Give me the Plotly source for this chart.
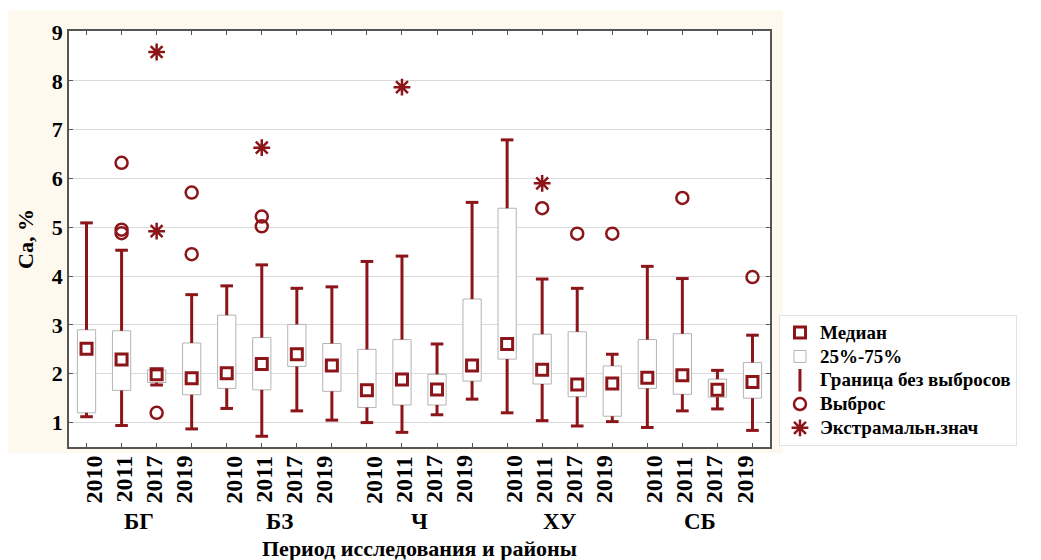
import plotly.graph_objects as go

# ---------------- data ----------------
groups = ["БГ", "БЗ", "Ч", "ХУ", "СБ"]
years = ["2010", "2011", "2017", "2019"]

whisker_low = [1.12, 0.94, 1.77, 0.87,  1.29, 0.72, 1.24, 1.05,  1.00, 0.80, 1.16, 1.48,
               1.20, 1.04, 0.93, 1.02,  0.90, 1.24, 1.28, 0.84]
q1 =          [1.20, 1.66, 1.82, 1.57,  1.70, 1.67, 2.15, 1.64,  1.31, 1.36, 1.36, 1.85,
               2.30, 1.79, 1.53, 1.13,  1.70, 1.58, 1.52, 1.50]
median =      [2.51, 2.29, 1.99, 1.91,  2.01, 2.20, 2.40, 2.17,  1.66, 1.88, 1.68, 2.17,
               2.61, 2.08, 1.78, 1.80,  1.92, 1.97, 1.67, 1.83]
q3 =          [2.90, 2.88, 2.08, 2.63,  3.20, 2.74, 3.01, 2.62,  2.50, 2.70, 1.99, 3.53,
               5.39, 2.81, 2.86, 2.16,  2.70, 2.82, 1.89, 2.23]
whisker_high = [5.09, 4.53, 2.08, 3.62,  3.80, 4.23, 3.75, 3.78,  4.30, 4.41, 2.61, 5.51,
                6.79, 3.94, 3.75, 2.40,  4.20, 3.95, 2.07, 2.79]

# outliers: index of box, value
outlier_box = [1, 1, 1, 2, 3, 3, 5, 5, 13, 14, 15, 17, 19]
outlier_val = [6.32, 4.95, 4.88, 1.20, 5.71, 4.45, 5.22, 5.02, 5.39, 4.87, 4.87, 5.60, 3.98]

# extreme values
extreme_box = [2, 2, 5, 9, 13]
extreme_val = [8.59, 4.92, 6.63, 7.87, 5.90]

legend_names = ["Медиан", "25%-75%", "Граница без выбросов", "Выброс", "Экстрамальн.знач"]
y_title = "Ca, %"
x_title = "Период исследования и районы"

# ---------------- styling ----------------
RED = "#8b1519"
BOXLINE = "#b4b4b4"
AXIS = "#555555"
SERIF = "Liberation Serif, Times New Roman, serif"


def lname(s):
    return '<span style="font-size:19px">' + s + '</span>'


n = len(median)
xs = list(range(n))

fig = go.Figure()

# boxes 25%-75%
fig.add_trace(go.Bar(
    x=xs, y=[b - a for a, b in zip(q1, q3)], base=q1, width=0.52,
    marker=dict(color="white", line=dict(color=BOXLINE, width=1)),
    name=lname(legend_names[1]), showlegend=True, legendrank=2, hoverinfo="skip"))

# whiskers (outside the box)
wx, wy = [], []
for i in xs:
    if whisker_high[i] > q3[i]:
        wx += [i, i, None]
        wy += [q3[i], whisker_high[i], None]
    if whisker_low[i] < q1[i]:
        wx += [i, i, None]
        wy += [q1[i], whisker_low[i], None]
fig.add_trace(go.Scatter(x=wx, y=wy, mode="lines", line=dict(color=RED, width=3),
                         showlegend=False, hoverinfo="skip"))

# whisker caps
fig.add_trace(go.Scatter(
    x=xs + xs, y=whisker_low + whisker_high, mode="markers",
    marker=dict(symbol="line-ew", size=9, line=dict(color=RED, width=3)),
    showlegend=False, hoverinfo="skip"))

# legend entry for whisker
fig.add_trace(go.Scatter(
    x=[None], y=[None], mode="markers", name=lname(legend_names[2]), legendrank=3,
    marker=dict(symbol="line-ns", size=16, line=dict(color=RED, width=3))))

# medians
fig.add_trace(go.Scatter(
    x=xs, y=median, mode="markers", name=lname(legend_names[0]), legendrank=1,
    marker=dict(symbol="square-open", size=11, color=RED, line=dict(color=RED, width=3))))

# outliers
fig.add_trace(go.Scatter(
    x=outlier_box, y=outlier_val, mode="markers", name=lname(legend_names[3]), legendrank=4,
    marker=dict(symbol="circle-open", size=12, color=RED, line=dict(color=RED, width=2.5))))

# extremes
fig.add_trace(go.Scatter(
    x=extreme_box, y=extreme_val, mode="markers", name=lname(legend_names[4]), legendrank=5,
    marker=dict(symbol="asterisk-open", size=14, color=RED, line=dict(color=RED, width=2.5))))

# ---------------- annotations (category labels) ----------------
annotations = []
for g, grp in enumerate(groups):
    center = g * 4 + 1.5
    for j, yr in enumerate(years):
        annotations.append(dict(
            x=center + (j - 1.5) * 0.857, xref="x", y=-0.078, yref="paper",
            text=yr, textangle=-90, showarrow=False, xanchor="center", yanchor="middle",
            font=dict(family=SERIF, size=24, color="black", weight="bold")))
    annotations.append(dict(
        x=center, xref="x", y=-0.179, yref="paper", text=grp, showarrow=False,
        xanchor="center", yanchor="middle",
        font=dict(family=SERIF, size=23, color="black", weight="bold")))
annotations.append(dict(
    x=0.5, xref="paper", y=-0.245, yref="paper", text=x_title, showarrow=False,
    xanchor="center", yanchor="middle",
    font=dict(family=SERIF, size=22, color="black", weight="bold")))

shapes = [
    dict(type="rect", xref="paper", yref="paper", x0=-0.087, x1=1.0185, y0=-0.014, y1=1.05,
         fillcolor="#fdf9ee", line=dict(width=0), layer="below"),
    dict(type="rect", xref="paper", yref="paper", x0=0, x1=1, y0=0, y1=1,
         fillcolor="white", line=dict(width=0), layer="below"),
]

fig.update_layout(
    width=1041, height=560,
    margin=dict(l=61, r=279, t=18, b=121),
    paper_bgcolor="white", plot_bgcolor="white",
    barmode="overlay",
    showlegend=True,
    legend=dict(x=1.0128, y=0.318, xanchor="left", yanchor="top",
                bgcolor="white", bordercolor="#e2e2e2", borderwidth=1,
                font=dict(family=SERIF, size=16, color="black", weight="bold"),
                itemsizing="trace", traceorder="normal"),
    annotations=annotations, shapes=shapes,
    xaxis=dict(range=[-0.5, 19.5], tickvals=xs, showticklabels=False,
               ticks="inside", ticklen=4, tickcolor=AXIS, showgrid=False,
               showline=True, linecolor=AXIS, linewidth=1.5, mirror="ticks", zeroline=False),
    yaxis=dict(range=[0.5, 9.02], tickvals=[1, 2, 3, 4, 5, 6, 7, 8, 9],
               ticks="inside", ticklen=4, tickcolor=AXIS,
               showgrid=True, gridcolor="#dadada", gridwidth=1,
               showline=True, linecolor=AXIS, linewidth=1.5, mirror="ticks", zeroline=False,
               tickfont=dict(family=SERIF, size=22, color="black", weight="bold"),
               title=dict(text=y_title, standoff=12,
                          font=dict(family=SERIF, size=22, color="black", weight="bold"))),
)

fig.write_html("out.html")
